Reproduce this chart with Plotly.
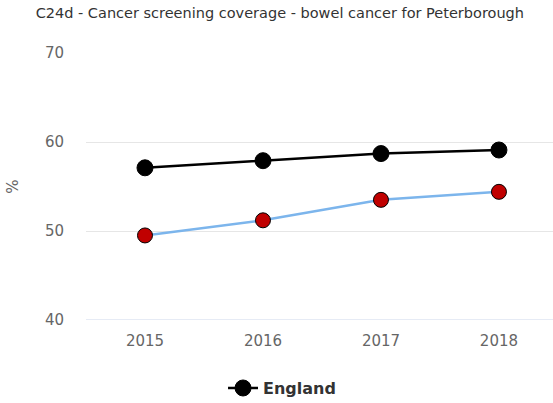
import plotly.graph_objects as go

years = [2015, 2016, 2017, 2018]
england = [57.1, 57.9, 58.7, 59.1]
peterborough = [49.5, 51.2, 53.5, 54.4]
tick_vals = [40, 50, 60, 70]

fig = go.Figure()
fig.add_trace(go.Scatter(
    x=years, y=peterborough, name="Peterborough", mode="lines+markers",
    line=dict(color="#7cb5ec", width=2.5),
    marker=dict(size=15, color="#c00000", line=dict(color="#000000", width=1)),
    showlegend=False,
))
fig.add_trace(go.Scatter(
    x=years, y=england, name="England", mode="lines+markers",
    line=dict(color="#000000", width=2.5),
    marker=dict(size=16, color="#000000", line=dict(color="#000000", width=1)),
))

fig.update_layout(
    width=553, height=403,
    margin=dict(l=86, r=0, t=53, b=83),
    paper_bgcolor="white", plot_bgcolor="white",
    font=dict(family="DejaVu Sans", color="#666666"),
    title=dict(text="C24d - Cancer screening coverage - bowel cancer for Peterborough",
               x=0.506, xanchor="center", y=0.968, yanchor="middle",
               font=dict(size=14.5, color="#333333")),
    xaxis=dict(range=[2014.5, 2018.458], tickvals=years, ticktext=[str(y) for y in years],
               showgrid=False, zeroline=False, showline=False, ticks="",
               ticklabelstandoff=10,
               tickfont=dict(size=15, color="#666666")),
    yaxis=dict(range=[40, 70], tickvals=tick_vals, showgrid=True, gridcolor="#e6e6e6",
               zeroline=False, showline=False, ticks="",
               ticklabelstandoff=21,
               tickfont=dict(size=15, color="#666666"),
               title=dict(text="%", font=dict(size=15, color="#666666"), standoff=22)),
    legend=dict(orientation="h", x=0.51, xanchor="center", xref="container",
                y=0.037, yanchor="middle", yref="container",
                font=dict(size=16, color="#333333", weight="bold")),
    showlegend=True,
)
fig.add_shape(type="line", xref="paper", yref="y", x0=0, x1=1, y0=40, y1=40,
              line=dict(color="#ccd6eb", width=1), layer="below")

fig.write_html("out.html", config={"displayModeBar": False},
               post_script="document.body.style.margin='0px';")
